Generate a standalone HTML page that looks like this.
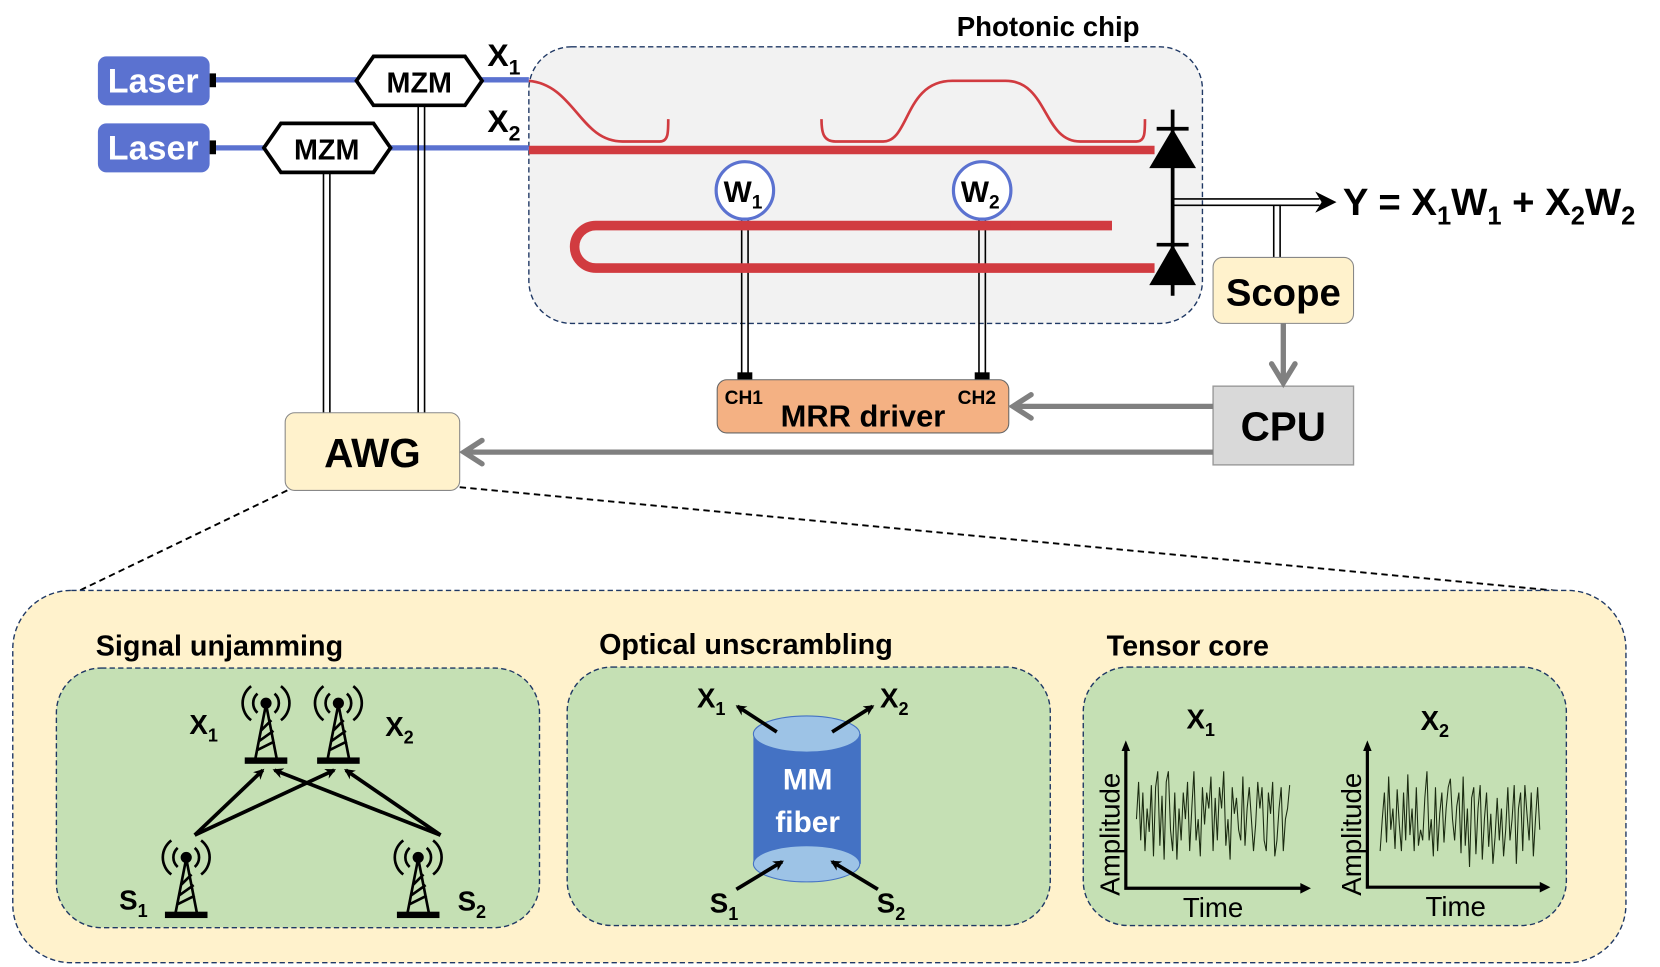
<!DOCTYPE html>
<html><head><meta charset="utf-8"><style>
html,body{margin:0;padding:0;background:#fff;}
svg{display:block;}
text{font-family:"Liberation Sans Narrow","Liberation Sans",sans-serif;font-weight:bold;fill:#000;}
</style></head><body>
<svg width="1660" height="967" viewBox="0 0 1560 909" preserveAspectRatio="none" xmlns="http://www.w3.org/2000/svg">
<defs>
<marker id="ab" markerWidth="10" markerHeight="10" refX="8" refY="5" orient="auto" markerUnits="userSpaceOnUse"><path d="M0,0 L10,5 L0,10 L3,5 z" fill="#000"/></marker>
<marker id="ag" markerWidth="22" markerHeight="22" refX="4" refY="11" orient="auto" markerUnits="userSpaceOnUse"><path d="M18,2 L6,11 L18,20" fill="none" stroke="#808080" stroke-width="5" stroke-linecap="round"/></marker>
</defs>
<!-- chip -->
<rect x="497" y="44" width="633" height="260" rx="40" fill="#f2f2f2" stroke="#1f3864" stroke-width="1.3" stroke-dasharray="5,3"/>
<text x="985" y="34" font-size="26" text-anchor="middle">Photonic chip</text>
<!-- lasers -->
<rect x="92" y="53" width="105" height="46" rx="8" fill="#5b72d0"/>
<text x="144" y="87" font-size="32" text-anchor="middle" style="fill:#fff">Laser</text>
<rect x="92" y="116" width="105" height="46" rx="8" fill="#5b72d0"/>
<text x="144" y="150" font-size="32" text-anchor="middle" style="fill:#fff">Laser</text>
<rect x="197" y="69" width="6" height="13" fill="#000"/>
<rect x="197" y="132" width="6" height="13" fill="#000"/>
<g stroke="#5b72d0" stroke-width="5">
<line x1="203" y1="75" x2="335" y2="75"/><line x1="452" y1="75" x2="497" y2="75"/>
<line x1="203" y1="139" x2="248" y2="139"/><line x1="367" y1="139" x2="497" y2="139"/>
</g>
<!-- MZM double lines -->
<g stroke="#000" stroke-width="1.5" fill="none">
<line x1="393" y1="99" x2="393" y2="388"/><line x1="399" y1="99" x2="399" y2="388"/>
<line x1="304" y1="162" x2="304" y2="388"/><line x1="310" y1="162" x2="310" y2="388"/>
<line x1="697" y1="205" x2="697" y2="352"/><line x1="703" y1="205" x2="703" y2="352"/>
<line x1="920" y1="205" x2="920" y2="352"/><line x1="926" y1="205" x2="926" y2="352"/>
<line x1="1197" y1="193" x2="1197" y2="242"/><line x1="1203" y1="193" x2="1203" y2="242"/>
<line x1="1102" y1="187" x2="1240" y2="187"/><line x1="1102" y1="193" x2="1240" y2="193"/>
</g>
<path d="M1236,180 L1256,190 L1236,200 L1242,190z" fill="#000"/>
<rect x="693" y="350" width="14" height="7" fill="#000"/>
<rect x="916" y="350" width="14" height="7" fill="#000"/>
<polygon points="335,76 351,53 437,53 453,76 437,99 351,99" fill="#fff" stroke="#000" stroke-width="3.5"/>
<text x="394" y="87" font-size="27" text-anchor="middle">MZM</text>
<polygon points="248,139 264,116 351,116 367,139 351,162 264,162" fill="#fff" stroke="#000" stroke-width="3.5"/>
<text x="307" y="150" font-size="27" text-anchor="middle">MZM</text>
<text x="458" y="62" font-size="30">X<tspan font-size="20" dy="8">1</tspan></text>
<text x="458" y="124" font-size="30">X<tspan font-size="20" dy="8">2</tspan></text>
<!-- red waveguides -->
<g stroke="#d13b40" fill="none" stroke-linecap="butt">
<path d="M497,141 L1085,141" stroke-width="8"/>
<path d="M497,76 C540,80 545,133 585,133 L620,133 C628,133 628,125 628,112" stroke-width="2.5"/>
<path d="M772,112 C772,125 774,133 785,133 L830,133 C855,133 850,76 895,76 L945,76 C985,76 980,133 1015,133 L1068,133 C1076,133 1076,125 1076,112" stroke-width="2.5"/>
<path d="M1045,212 L560,212 A20,20 0 0 0 560,252 L1085,252" stroke-width="9"/>
</g>
<path d="M950,208 L1045,211 L1045,213 L950,216z" fill="#d13b40"/>
<!-- photodiodes -->
<line x1="1102" y1="103" x2="1102" y2="278" stroke="#000" stroke-width="3.5"/>
<line x1="1087" y1="121" x2="1117" y2="121" stroke="#000" stroke-width="3.5"/>
<path d="M1102,121 L1080,158 L1124,158z" fill="#000"/>
<line x1="1087" y1="230" x2="1117" y2="230" stroke="#000" stroke-width="3.5"/>
<path d="M1102,230 L1080,268 L1124,268z" fill="#000"/>
<!-- W circles -->
<circle cx="700" cy="179" r="27" fill="#fff" stroke="#5b72d0" stroke-width="3"/>
<text x="680" y="190" font-size="28">W<tspan font-size="18" dy="6">1</tspan></text>
<circle cx="923" cy="179" r="27" fill="#fff" stroke="#5b72d0" stroke-width="3"/>
<text x="903" y="190" font-size="28">W<tspan font-size="18" dy="6">2</tspan></text>
<text x="1262" y="202" font-size="36">Y = X<tspan font-size="24" dy="9">1</tspan><tspan dy="-9">W</tspan><tspan font-size="24" dy="9">1</tspan><tspan dy="-9"> + X</tspan><tspan font-size="24" dy="9">2</tspan><tspan dy="-9">W</tspan><tspan font-size="24" dy="9">2</tspan></text>
<!-- Scope, CPU, MRR, AWG -->
<rect x="1140" y="242" width="132" height="62" rx="9" fill="#fff2cc" stroke="#888" stroke-width="1"/>
<text x="1206" y="287" font-size="36" text-anchor="middle">Scope</text>
<rect x="1140" y="363" width="132" height="74" fill="#d9d9d9" stroke="#999" stroke-width="1.3"/>
<text x="1206" y="414" font-size="38" text-anchor="middle">CPU</text>
<rect x="674" y="357" width="274" height="50" rx="9" fill="#f4b183" stroke="#666" stroke-width="1"/>
<text x="681" y="380" font-size="18">CH1</text>
<text x="900" y="380" font-size="18">CH2</text>
<text x="811" y="401" font-size="29" text-anchor="middle">MRR driver</text>
<rect x="268" y="388" width="164" height="73" rx="9" fill="#fff2cc" stroke="#888" stroke-width="1"/>
<text x="350" y="439" font-size="38" text-anchor="middle">AWG</text>
<g stroke="#808080" stroke-width="5" fill="none">
<line x1="1206" y1="304" x2="1206" y2="358" />
<path d="M1195,342 L1206,360 L1217,342" stroke-linecap="round"/>
<line x1="1140" y1="382" x2="953" y2="382"/>
<path d="M969,371 L952,382 L969,393" stroke-linecap="round"/>
<line x1="1140" y1="425" x2="436" y2="425"/>
<path d="M453,414 L436,425 L453,436" stroke-linecap="round"/>
</g>
<!-- dashed zoom lines -->
<line x1="270" y1="461" x2="75" y2="555" stroke="#000" stroke-width="1.8" stroke-dasharray="6,4"/>
<line x1="432" y1="458" x2="1470" y2="556" stroke="#000" stroke-width="1.8" stroke-dasharray="6,4"/>
<!-- bottom panel -->
<rect x="12" y="555" width="1516" height="350" rx="55" fill="#fff2cc" stroke="#1f3864" stroke-width="1.3" stroke-dasharray="5,3"/>
<text x="90" y="616" font-size="27">Signal unjamming</text>
<text x="563" y="615" font-size="27">Optical unscrambling</text>
<text x="1040" y="616" font-size="27">Tensor core</text>
<rect x="53" y="628" width="454" height="244" rx="42" fill="#c5e0b4" stroke="#1f3864" stroke-width="1.3" stroke-dasharray="5,3"/>
<rect x="533" y="627" width="454" height="243" rx="42" fill="#c5e0b4" stroke="#1f3864" stroke-width="1.3" stroke-dasharray="5,3"/>
<rect x="1018" y="627" width="454" height="243" rx="42" fill="#c5e0b4" stroke="#1f3864" stroke-width="1.3" stroke-dasharray="5,3"/>
<!-- towers -->
<g id="tw" stroke="#000" fill="none" stroke-width="2.5">
<path d="M250,662 L240,713 M250,662 L260,713 M243,697 L257,687 M245,687 L255,677 M242,705 L258,697"/>
<rect x="230" y="712" width="40" height="6" fill="#000" stroke="none"/>
<circle cx="250" cy="661" r="4" fill="#000"/>
<path d="M242,652 A12,12 0 0 0 242,670 M258,652 A12,12 0 0 1 258,670 M236,645 A20,20 0 0 0 236,677 M264,645 A20,20 0 0 1 264,677"/>
</g>
<use href="#tw" transform="translate(68,0)"/>
<use href="#tw" transform="translate(-75,145)"/>
<use href="#tw" transform="translate(143,145)"/>
<g stroke="#000" stroke-width="3.5" marker-end="url(#ab)">
<line x1="183" y1="785" x2="247" y2="724"/>
<line x1="183" y1="785" x2="314" y2="724"/>
<line x1="414" y1="785" x2="325" y2="724"/>
<line x1="414" y1="785" x2="258" y2="724"/>
</g>
<text x="178" y="690" font-size="26">X<tspan font-size="17" dy="7">1</tspan></text>
<text x="362" y="692" font-size="26">X<tspan font-size="17" dy="7">2</tspan></text>
<text x="112" y="855" font-size="26">S<tspan font-size="17" dy="7">1</tspan></text>
<text x="430" y="856" font-size="26">S<tspan font-size="17" dy="7">2</tspan></text>
<!-- fiber -->
<rect x="708" y="690" width="101" height="122" fill="#4472c4"/>
<ellipse cx="758" cy="812" rx="50" ry="17" fill="#9dc3e6" stroke="#4472c4" stroke-width="1"/>
<ellipse cx="758" cy="690" rx="50" ry="17" fill="#9dc3e6" stroke="#4472c4" stroke-width="1"/>
<text x="759" y="742" font-size="28" text-anchor="middle" style="fill:#fff">MM</text>
<text x="759" y="782" font-size="28" text-anchor="middle" style="fill:#fff">fiber</text>
<g stroke="#000" stroke-width="3.5" marker-end="url(#ab)">
<line x1="730" y1="688" x2="693" y2="664"/>
<line x1="782" y1="688" x2="820" y2="664"/>
<line x1="692" y1="836" x2="735" y2="810"/>
<line x1="825" y1="836" x2="782" y2="810"/>
</g>
<text x="655" y="665" font-size="26">X<tspan font-size="17" dy="7">1</tspan></text>
<text x="827" y="665" font-size="26">X<tspan font-size="17" dy="7">2</tspan></text>
<text x="667" y="858" font-size="26">S<tspan font-size="17" dy="7">1</tspan></text>
<text x="824" y="858" font-size="26">S<tspan font-size="17" dy="7">2</tspan></text>
<!-- tensor core -->
<text x="1115" y="685" font-size="26">X<tspan font-size="17" dy="7">1</tspan></text>
<text x="1335" y="686" font-size="26">X<tspan font-size="17" dy="7">2</tspan></text>
<g stroke="#000" stroke-width="3" fill="none">
<path d="M1058,702 L1058,835 L1225,835"/><path d="M1285,702 L1285,834 L1450,834"/>
</g>
<path d="M1054,706 L1058,696 L1062,706z M1222,830 L1232,835 L1222,840z M1281,706 L1285,696 L1289,706z M1447,829 L1457,834 L1447,839z" fill="#000"/>
<text transform="translate(1052,842) rotate(-90)" font-size="26" style="font-weight:normal">Amplitude</text>
<text transform="translate(1279,842) rotate(-90)" font-size="26" style="font-weight:normal">Amplitude</text>
<text x="1140" y="862" font-size="26" text-anchor="middle" style="font-weight:normal">Time</text>
<text x="1368" y="861" font-size="26" text-anchor="middle" style="font-weight:normal">Time</text>
<polyline fill="none" stroke="#1a2a10" stroke-width="1" points="1068,770 1070,735 1072,790 1074,745 1076,800 1078,760 1080,782 1082,738 1084,805 1086,740 1088,725 1090,795 1092,748 1094,808 1096,735 1098,725 1100,780 1102,800 1104,745 1106,808 1108,760 1110,790 1112,745 1114,770 1116,735 1118,800 1120,760 1122,725 1124,790 1126,770 1128,805 1130,740 1132,775 1134,745 1136,760 1138,730 1140,800 1142,750 1144,790 1146,740 1148,760 1150,725 1152,795 1154,770 1156,808 1158,740 1160,765 1162,750 1164,780 1166,790 1168,730 1170,795 1172,760 1174,740 1176,770 1178,800 1180,775 1182,735 1184,760 1186,740 1188,790 1190,800 1192,745 1194,765 1196,735 1198,805 1200,790 1202,760 1204,740 1206,800 1208,770 1210,760 1212,738"/>
<polyline fill="none" stroke="#1a2a10" stroke-width="1" points="1297,800 1299,770 1301,745 1303,792 1305,730 1307,780 1309,760 1311,798 1313,742 1315,775 1317,800 1319,745 1321,790 1323,728 1325,785 1327,760 1329,800 1331,740 1333,795 1335,780 1337,790 1339,750 1341,725 1343,790 1345,770 1347,805 1349,740 1351,800 1353,765 1355,745 1357,792 1359,760 1361,740 1363,732 1365,770 1367,790 1369,758 1371,745 1373,802 1375,730 1377,795 1379,760 1381,815 1383,750 1385,740 1387,803 1389,760 1391,738 1393,808 1395,770 1397,745 1399,796 1401,765 1403,812 1405,787 1407,750 1409,790 1411,760 1413,805 1415,780 1417,740 1419,790 1421,770 1423,738 1425,812 1427,760 1429,745 1431,800 1433,738 1435,765 1437,790 1439,745 1441,805 1443,770 1445,740 1447,780"/>
</svg>
</body></html>
